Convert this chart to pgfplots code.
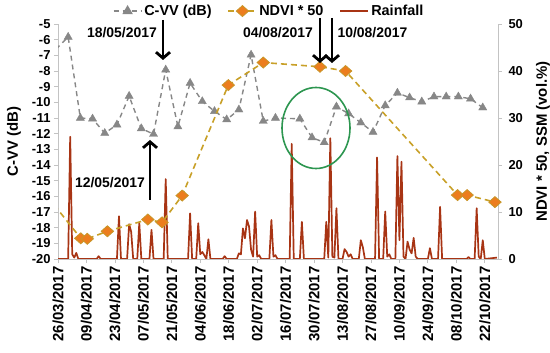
\documentclass[border=0pt]{standalone}
\usepackage{pgfplots}
\pgfplotsset{compat=1.18}
\usepackage{pgfplotstable}
\usepackage{fontspec}
\setmainfont{Liberation Sans}
\usetikzlibrary{arrows.meta}

\definecolor{cvv}{RGB}{135,135,135}
\definecolor{ndviline}{RGB}{200,160,40}
\definecolor{ndvimark}{RGB}{236,125,30}
\definecolor{ndviedge}{RGB}{200,150,40}
\definecolor{rain}{RGB}{168,52,20}
\definecolor{axgray}{RGB}{195,195,195}
\definecolor{ellgreen}{RGB}{45,150,80}

\pgfplotstableread{
day cvv
-1 -6.6
5 -5.83
11 -11.0
17 -11.05
23 -11.97
29 -11.43
35 -9.6
41 -11.67
47 -12.03
53 -7.92
59 -11.55
65 -8.77
71 -9.94
77 -10.57
83 -11.1
89 -10.47
95 -6.97
101 -11.2
107 -11.0
119 -11.05
125 -12.25
131 -12.56
137 -10.28
143 -10.72
149 -11.3
155 -11.9
161 -10.2
167 -9.4
173 -9.7
179 -9.96
185 -9.64
191 -9.64
197 -9.64
203 -9.77
209 -10.34
}\cvvdata

\pgfplotstableread{
day ndvi
-5 13.2
11.2 4.4
14.4 4.3
24.3 5.9
44.2 8.4
51.2 7.8
61.1 13.5
83.8 37.0
101 41.8
128.9 40.9
141.5 40.0
196.6 13.6
201.3 13.6
215 12.1
}\ndvidata

\pgfplotstableread{
day rain
0 0
5 0
6 26
7 1
8 0.3
9 1.3
10 0
19 0
20 0.6
21 0
29 0
30 9.1
31 0
34 0
35 7.4
36 5.8
37 0
39 0
40 7.7
41 0
45 0
46 6.2
47 0
52 0
53 17
54 0
64 0
65 9.7
66 0
68 0
69 7.6
70 1
71 1.5
72 0.8
73 0
74 4.2
75 0
81 0
82 0.6
83 0
88 0
89 1.2
90 1
91 6.5
92 4.4
93 8.3
94 6.9
95 2
96 0.5
97 10.1
98 0.5
99 0.8
100 0
104 0
105 8.3
106 0.5
107 0.8
108 0
114 0
115 24.5
116 0
119 0
120 7.9
121 0
131 0
132 7.9
133 0.3
134 25.7
135 0.5
136 0.3
137 10.8
138 0
140 0
141 2.1
142 1.5
143 0.5
144 1
145 0
148 0
149 4
150 2.5
151 0
156 0
157 21.6
158 0
160 0
161 10.1
162 0.5
163 1
164 0
166 0
167 21.9
168 4
169 20.7
170 0.5
171 0
172 3.7
173 2
174 1.2
175 4.5
176 0.5
177 0
182 0
183 2.3
184 0
187 0
188 11.1
189 0
201 0
202 0.4
203 0
205 0
206 10.8
207 0.5
208 0
209 4
210 0
216 0.3
}\raindata

\pgfplotsset{
  common/.style={
    at={(58bp,94bp)}, anchor=south west, scale only axis,
    width=440bp, height=235bp,
    xmin=0, xmax=216.5,
    axis line style={axgray, line width=0.8bp, -},
    tick style={axgray, line width=0.8bp},
    major tick length=4bp,
    tick align=outside,
    ticklabel style={text=black, font=\fontsize{13}{13}\selectfont\bfseries},
  },
}

\begin{document}
\begin{tikzpicture}
\begin{axis}[common,
  ymin=-20, ymax=-5,
  axis y line*=left, axis x line*=bottom,
  xtick={0,14,...,210},
  xticklabels={26/03/2017,09/04/2017,23/04/2017,07/05/2017,21/05/2017,04/06/2017,18/06/2017,02/07/2017,16/07/2017,30/07/2017,13/08/2017,27/08/2017,10/09/2017,24/09/2017,08/10/2017,22/10/2017},
  xticklabel style={rotate=90, anchor=east, text=black, font=\fontsize{15}{15}\selectfont\bfseries},
  ytick={-20,-19,-18,-17,-16,-15,-14,-13,-12,-11,-10,-9,-8,-7,-6,-5},
  yticklabels={-20,-19,-18,-17,-16,-15,-14,-13,-12,-11,-10,-9,-8,-7,-6,-5},
  yticklabel style={text=black},
]
\addplot[cvv, line width=1.4bp, dash pattern=on 5bp off 4bp] table[x=day,y=cvv] {\cvvdata};
\addplot[only marks, mark=triangle*, mark size=4.7bp, mark options={fill=cvv, draw=cvv, solid}, restrict x to domain=0:217] table[x=day,y=cvv] {\cvvdata};
\end{axis}

\begin{axis}[common,
  ymin=0, ymax=50,
  axis y line*=right, axis x line=none,
  ytick={0,10,20,30,40,50},
  yticklabels={0,10,20,30,40,50},
  yticklabel style={xshift=3bp, text=black, font=\fontsize{13}{13}\selectfont\bfseries},
  legend image code/.code={\draw[mark repeat=2,mark phase=2,#1] plot coordinates {(0bp,0bp) (14bp,0bp) (28bp,0bp)};},
  legend style={draw=none, fill=none, at={(0.122,1.055)}, anchor=west,
    legend columns=-1, font=\fontsize{14.5}{14.5}\selectfont\bfseries,
    /tikz/every even column/.append style={column sep=14bp},
    inner sep=1bp},
]
\addlegendimage{cvv, line width=1.4bp, dash pattern=on 5bp off 4bp, mark=triangle*, mark size=4.7bp, mark options={solid, fill=cvv, draw=cvv}}
\addlegendentry{C-VV (dB)}
\addlegendimage{ndviline, line width=1.6bp, dash pattern=on 6bp off 4bp, mark=diamond*, mark size=5.5bp, mark options={solid, fill=ndvimark, draw=ndviedge, xscale=1.5, line width=0.8bp}}
\addlegendentry{NDVI * 50}
\addlegendimage{rain, line width=1.8bp}
\addlegendentry{Rainfall}

\addplot[rain, line width=1.7bp, line join=round, forget plot] table[x=day,y=rain] {\raindata};
\addplot[ndviline, line width=1.6bp, dash pattern=on 6bp off 4bp, forget plot] table[x=day,y=ndvi] {\ndvidata};
\addplot[only marks, mark=diamond*, mark size=5.5bp, mark options={fill=ndvimark, draw=ndviedge, xscale=1.5, line width=0.8bp}, restrict x to domain=0:217, forget plot] table[x=day,y=ndvi] {\ndvidata};
\end{axis}

% annotations
\draw[ellgreen, line width=1.6bp] (316bp,225bp) ellipse [x radius=34bp, y radius=40.5bp];
\begin{scope}[line width=2.8bp, -{Straight Barb[length=6bp,width=14bp]}]
\draw (163bp,333bp) -- (163bp,293bp);
\draw (150bp,153bp) -- (150bp,213bp);
\draw (320bp,335bp) -- (320bp,290bp);
\draw (332bp,335bp) -- (332bp,290bp);
\end{scope}
\begin{scope}[every node/.style={font=\fontsize{14}{14}\selectfont\bfseries, inner sep=0pt}]
\node at (122bp,320bp) {18/05/2017};
\node at (110bp,170bp) {12/05/2017};
\node at (278bp,320bp) {04/08/2017};
\node at (372.5bp,320bp) {10/08/2017};
\end{scope}
\node[rotate=90, font=\fontsize{15}{15}\selectfont\bfseries] at (14bp,211.5bp) {C-VV (dB)};
\node[rotate=90, font=\fontsize{15}{15}\selectfont\bfseries] at (543bp,211.5bp) {NDVI * 50, SSM (vol.\%)};

\pgfresetboundingbox
\useasboundingbox (0,0) rectangle (550bp,353bp);
\end{tikzpicture}
\end{document}
